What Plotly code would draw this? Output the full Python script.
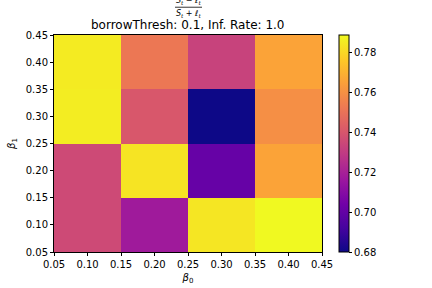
import plotly.graph_objects as go

# cell centres
beta0 = [0.1, 0.2, 0.3, 0.4]
beta1 = [0.1, 0.2, 0.3, 0.4]

# rows follow beta1 (bottom to top), columns follow beta0
ratio = [
    [0.7356, 0.7176, 0.7840, 0.7890],
    [0.7356, 0.7835, 0.7010, 0.7660],
    [0.7860, 0.7405, 0.6800, 0.7596],
    [0.7855, 0.7520, 0.7330, 0.7660],
]

tick_vals = [0.05, 0.10, 0.15, 0.20, 0.25, 0.30, 0.35, 0.40, 0.45]
tick_text = ['%.2f' % t for t in tick_vals]
cbar_vals = [0.68, 0.70, 0.72, 0.74, 0.76, 0.78]

font = dict(family='DejaVu Sans', size=10, color='black')

fig = go.Figure(go.Heatmap(
    x=beta0, y=beta1, z=ratio,
    colorscale='Plasma',
    zmin=0.68, zmax=0.789,
    colorbar=dict(
        x=(339 - 54) / 268, xanchor='left', xpad=0,
        y=0, yanchor='bottom', len=1, ypad=0,
        thickness=10, outlinewidth=1, outlinecolor='black',
        tickvals=cbar_vals, ticktext=['%.2f' % v for v in cbar_vals],
        ticks='outside', ticklen=3, tickcolor='black',
        tickfont=font,
    ),
))

axis_style = dict(
    range=[0.05, 0.45], tickvals=tick_vals, ticktext=tick_text,
    ticks='outside', ticklen=3, tickcolor='black',
    showline=True, linecolor='black', linewidth=1, mirror=True,
    showgrid=False, zeroline=False, tickfont=font, automargin=False,
)

fig.update_xaxes(**axis_style, title=dict(text='<i>β</i><sub>0</sub>', font=font, standoff=4))
fig.update_yaxes(**axis_style, title=dict(text='<i>β</i><sub>1</sub>', font=font, standoff=8))

# title with the (S - l)/(S + l) fraction above it (numerator is clipped at the top)
fig.add_annotation(text='<i>S<sub>t</sub></i> − <i>ℓ<sub>t</sub></i>', xref='paper', yref='paper',
                   x=(188.5 - 54) / 268, y=1.158, yanchor='middle', showarrow=False,
                   font=dict(family='DejaVu Sans', size=8))
fig.add_shape(type='line', xref='paper', yref='paper', x0=(175 - 54) / 268, x1=(202 - 54) / 268,
              y0=1.128, y1=1.128, line=dict(color='black', width=0.8))
fig.add_annotation(text='<i>S<sub>t</sub></i> + <i>ℓ<sub>t</sub></i>', xref='paper', yref='paper',
                   x=(188.5 - 54) / 268, y=1.095, yanchor='middle', showarrow=False,
                   font=dict(family='DejaVu Sans', size=8))
fig.add_annotation(text='borrowThresh: 0.1, Inf. Rate: 1.0', xref='paper', yref='paper',
                   x=0.5, y=1.044, yanchor='middle', showarrow=False,
                   font=dict(family='DejaVu Sans', size=12))

fig.update_layout(
    width=432, height=288,
    margin=dict(l=54, r=110, t=35, b=36, autoexpand=False),
    paper_bgcolor='white', plot_bgcolor='white',
    font=font,
)

fig.write_html("out.html", config={'displayModeBar': False},
               post_script="document.body.style.margin='0';")
